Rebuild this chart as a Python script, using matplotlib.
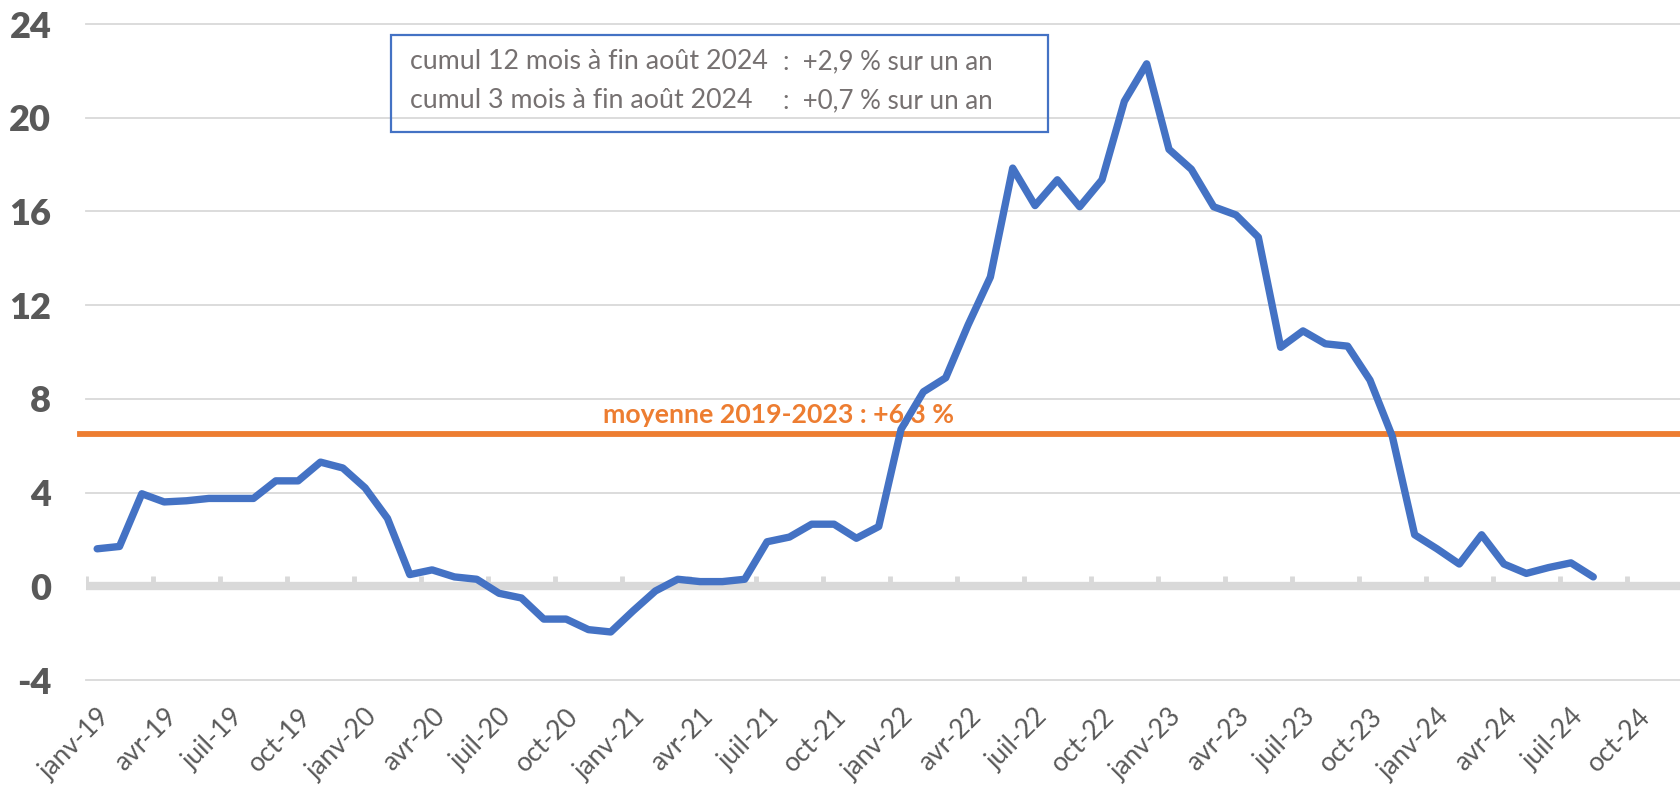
import matplotlib.pyplot as plt
from matplotlib.patches import Rectangle

plt.rcParams['font.family'] = ['Lato', 'DejaVu Sans']
plt.rcParams['axes.unicode_minus'] = False

# monthly values, janv-19 .. août-24
valeurs = [1.6, 1.7, 3.95, 3.6, 3.65, 3.75, 3.75, 3.75, 4.5, 4.5, 5.3, 5.05,
           4.2, 2.9, 0.5, 0.7, 0.4, 0.3, -0.3, -0.5, -1.4, -1.4, -1.85, -1.95,
           -1.05, -0.2, 0.3, 0.2, 0.2, 0.3, 1.9, 2.1, 2.65, 2.65, 2.05, 2.55,
           6.7, 8.3, 8.9, 11.15, 13.2, 17.85, 16.25, 17.35, 16.2, 17.35, 20.7, 22.3,
           18.65, 17.8, 16.2, 15.85, 14.9, 10.2, 10.9, 10.35, 10.25, 8.8, 6.4, 2.2,
           1.6, 0.95, 2.2, 0.95, 0.55, 0.8, 1.0, 0.4]
labels_x = ['janv-19', 'avr-19', 'juil-19', 'oct-19',
            'janv-20', 'avr-20', 'juil-20', 'oct-20',
            'janv-21', 'avr-21', 'juil-21', 'oct-21',
            'janv-22', 'avr-22', 'juil-22', 'oct-22',
            'janv-23', 'avr-23', 'juil-23', 'oct-23',
            'janv-24', 'avr-24', 'juil-24', 'oct-24']
moyenne_trace = 6.5
moyenne_texte = 'moyenne 2019-2023 : +6,3 %'
cumul_gauche = ['cumul 12 mois à fin août 2024', 'cumul 3 mois à fin août 2024']
cumul_droite = [':  +2,9 % sur un an', ':  +0,7 % sur un an']

W, H = 1681, 793
fig = plt.figure(figsize=(W / 100, H / 100), dpi=100)
ax = fig.add_axes([86 / W, (H - 680) / H, (W - 86) / W, (680 - 24) / H])

gris = '#D9D9D9'
bleu = '#4472C4'
orange = '#ED7D31'

x = [i + 0.5 for i in range(len(valeurs))]

for y in [-4, 4, 8, 12, 16, 20, 24]:
    ax.axhline(y, color=gris, lw=1.3, zorder=1, clip_on=False)

# category axis at zero with tick marks between quarters
ax.axhline(0, color=gris, lw=6, zorder=1.5)
ax.vlines(range(0, 73, 3), 0, 0.42, color=gris, lw=3.5, zorder=1.5)

ax.axhline(moyenne_trace, xmin=-0.004, color=orange, lw=4.2, zorder=2,
           clip_on=False)
ax.text(31.0, 6.95, moyenne_texte, color=orange, fontsize=19.2,
        fontweight='bold', ha='center', va='baseline', zorder=2.5)

ax.plot(x, valeurs, color=bleu, lw=5.3, solid_capstyle='round',
        solid_joinstyle='round', zorder=3)

ax.set_xlim(0, (W - 86) / 22.33)
ax.set_ylim(-4, 24)
ax.set_yticks(range(-4, 25, 4))
ax.tick_params(axis='y', length=0, pad=25, labelsize=26, labelcolor='#595959')
for t in ax.get_yticklabels():
    t.set_fontweight('heavy')
ax.set_xticks([i * 3 + 0.5 for i in range(len(labels_x))])
ax.set_xticklabels(labels_x, rotation=45, ha='right', va='top',
                   rotation_mode='anchor')
ax.tick_params(axis='x', length=0, pad=17, labelsize=19, labelcolor='#595959')
for s in ax.spines.values():
    s.set_visible(False)

# text box
fig.patches.append(Rectangle((391 / W, 1 - 132 / H), (1048 - 391) / W, 97 / H,
                             transform=fig.transFigure, fill=False,
                             edgecolor=bleu, lw=1.6))
for k, yb in enumerate([69, 108]):
    fig.text(410 / W, 1 - yb / H, cumul_gauche[k], color='#767171',
             fontsize=19.3, va='baseline', ha='left')
    fig.text(783 / W, 1 - yb / H, cumul_droite[k], color='#767171',
             fontsize=18.6, va='baseline', ha='left')

fig.savefig('out.png', dpi=100)
